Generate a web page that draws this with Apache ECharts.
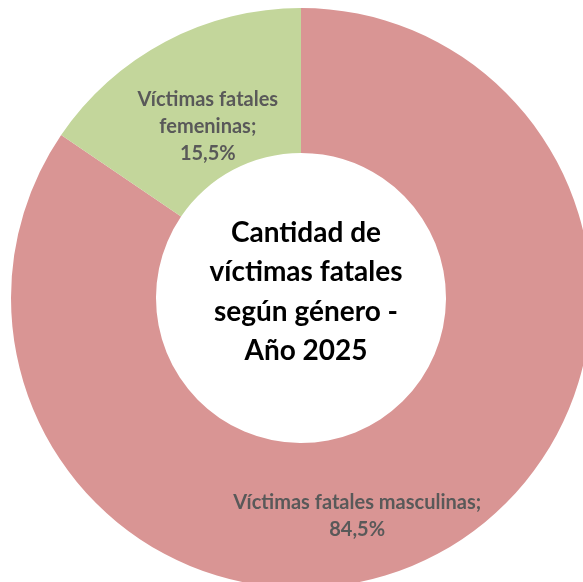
<!DOCTYPE html>
<html>
<head>
<meta charset="utf-8">
<script src="https://cdn.jsdelivr.net/npm/echarts@6/dist/echarts.min.js"></script>
<style>
  html, body { margin: 0; padding: 0; background: #fff; }
  #chart { width: 583px; height: 582px; }
</style>
</head>
<body>
<div id="chart"></div>
<script>
const categories = ['Víctimas fatales masculinas', 'Víctimas fatales femeninas']
const shares = [84.5, 15.5]
const colors = ['#D99594', '#C3D69B']
const labelTexts = ['Víctimas fatales masculinas;', 'Víctimas fatales\nfemeninas;']
const centerTitle = 'Cantidad de\nvíctimas fatales\nsegún género -\nAño 2025'

const chart = echarts.init(document.getElementById('chart'))

// desplazamiento de las etiquetas respecto al centro del sector
const labelShift = [
  { dx: -47, dy: 23 },
  { dx: 10, dy: 23 }
]

chart.setOption({
  animation: false,
  title: {
    text: centerTitle,
    left: 301,
    top: 208,
    textAlign: 'center',
    textStyle: {
      fontFamily: 'Lato',
      fontSize: 28,
      fontWeight: 'bold',
      color: '#000',
      lineHeight: 39.5
    }
  },
  series: [
    {
      type: 'pie',
      center: [301, 298],
      radius: [145, 290],
      startAngle: 90,
      clockwise: true,
      silent: true,
      data: categories.map((name, i) => ({
        name,
        value: shares[i],
        itemStyle: { color: colors[i] }
      })),
      label: {
        show: true,
        position: 'inside',
        fontFamily: 'Lato',
        fontSize: 20,
        fontWeight: 'bold',
        color: '#595959',
        lineHeight: 27,
        align: 'center',
        formatter: (p) => labelTexts[p.dataIndex] + '\n' + p.value.toFixed(1).replace('.', ',') + '%'
      },
      labelLine: { show: false },
      labelLayout: (params) => labelShift[params.dataIndex]
    }
  ]
})
</script>
</body>
</html>
